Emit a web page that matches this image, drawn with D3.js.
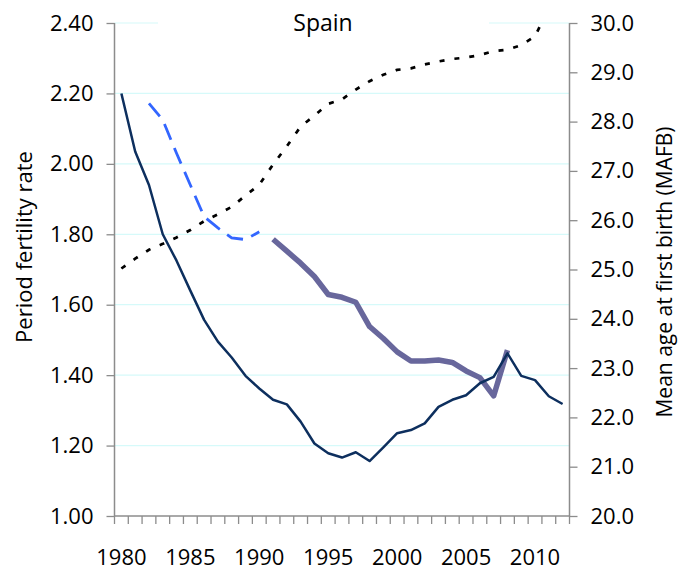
<!DOCTYPE html>
<html><head><meta charset="utf-8">
<script src="https://cdn.jsdelivr.net/npm/d3@7"></script>
<style>body{margin:0;background:#fff}svg text{font-family:"Open Sans",sans-serif;fill:#000}</style>
</head><body><svg id="c" width="685" height="570"></svg>
<script>
const years = [1980,1981,1982,1983,1984,1985,1986,1987,1988,1989,1990,1991,1992,1993,1994,1995,1996,1997,1998,1999,2000,2001,2002,2003,2004,2005,2006,2007,2008,2009,2010,2011,2012];
const yearLabels = [1980,1985,1990,1995,2000,2005,2010];
const tfr = [2.20,2.035,1.94,1.80,1.725,1.64,1.557,1.495,1.45,1.398,1.362,1.33,1.317,1.268,1.206,1.178,1.166,1.181,1.156,1.195,1.235,1.244,1.263,1.31,1.33,1.343,1.377,1.395,1.462,1.398,1.386,1.34,1.318];
const cohortEarlyYears = [1982,1983,1984,1985,1986,1987,1988,1989,1990];
const cohortEarly = [2.172,2.125,2.03,1.94,1.85,1.818,1.79,1.785,1.807];
const cohortYears = [1991,1992,1993,1994,1995,1996,1997,1998,1999,2000,2001,2002,2003,2004,2005,2006,2007,2008];
const cohort = [1.786,1.752,1.718,1.68,1.629,1.621,1.607,1.538,1.504,1.466,1.44,1.44,1.443,1.436,1.412,1.393,1.341,1.471];
const mafb = [25.02,25.22,25.4,25.52,25.65,25.8,25.98,26.12,26.27,26.5,26.72,27.13,27.5,27.9,28.12,28.36,28.45,28.65,28.82,28.95,29.05,29.08,29.16,29.22,29.27,29.3,29.35,29.43,29.46,29.55,29.73,30.3,30.5];
const leftTicks = [1.0,1.2,1.4,1.6,1.8,2.0,2.2,2.4];
const rightTicks = [20,21,22,23,24,25,26,27,28,29,30];

const L = 114.5, R = 569.5, T = 23, B = 516;
const svg = d3.select("#c");
const x = d3.scaleBand().domain(years).range([L, R]);
const yL = d3.scaleLinear().domain([1.0, 2.4]).range([B, T]);
const yR = d3.scaleLinear().domain([20, 30]).range([B, T]);
const cx = d => x(d) + x.bandwidth()/2;

svg.append("defs").append("clipPath").attr("id","clip")
  .append("rect").attr("x", L).attr("y", T).attr("width", R-L).attr("height", B-T);

// gridlines
svg.append("g").selectAll("line").data(leftTicks.slice(1)).join("line")
  .attr("x1", L).attr("x2", R).attr("y1", d => yL(d)).attr("y2", d => yL(d))
  .attr("stroke", "#d6fafa").attr("stroke-width", 1.2);

// title with white background
svg.append("rect").attr("x", 158).attr("y", 8).attr("width", 331).attr("height", 30).attr("fill", "#fff");
svg.append("text").attr("x", 323).attr("y", 31).attr("text-anchor","middle").style("font-size","23px").text("Spain");

// axes
const gL = svg.append("g").attr("transform", `translate(${L},0)`)
  .call(d3.axisLeft(yL).tickValues(leftTicks).tickFormat(d3.format(".2f")).tickSize(8).tickPadding(13));
const gR = svg.append("g").attr("transform", `translate(${R},0)`)
  .call(d3.axisRight(yR).tickValues(rightTicks).tickFormat(d3.format(".1f")).tickSize(8).tickPadding(13));
const gB = svg.append("g").attr("transform", `translate(0,${B})`)
  .call(d3.axisBottom(x).tickValues(yearLabels).tickSize(0).tickPadding(33));
// boundary ticks for categories
svg.append("g").selectAll("line").data(years.concat([null])).join("line")
  .attr("x1", (d,i) => L + i*x.step()).attr("x2", (d,i) => L + i*x.step())
  .attr("y1", B).attr("y2", B+8).attr("stroke", "#8c8c8c").attr("stroke-width", 1.3);
[gL,gR,gB].forEach(g => {
  g.select(".domain").attr("stroke","#8c8c8c").attr("stroke-width",1.5);
  g.selectAll(".tick line").attr("stroke","#8c8c8c").attr("stroke-width",1.3);
  g.selectAll("text").style("font-size","22px").attr("fill","#000").style("font-family","'Open Sans',sans-serif");
});
gB.select(".domain").attr("d", `M${L},0H${R}`);
gL.select(".domain").attr("d", `M0,${B}V${T}`);
gR.select(".domain").attr("d", `M0,${B}V${T}`);

const plot = svg.append("g").attr("clip-path","url(#clip)");
const lineL = d3.line().x(d => cx(d[0])).y(d => yL(d[1]));
const lineR = d3.line().x(d => cx(d[0])).y(d => yR(d[1]));

plot.append("path").attr("d", lineR(d3.zip(years, mafb)))
  .attr("fill","none").attr("stroke","#000").attr("stroke-width",2.7).attr("stroke-dasharray","5,10");
plot.append("path").attr("d", lineL(d3.zip(cohortEarlyYears, cohortEarly)))
  .attr("fill","none").attr("stroke","#3366ff").attr("stroke-width",2.8).attr("stroke-dasharray","17,9");
plot.append("path").attr("d", lineL(d3.zip(cohortYears, cohort)))
  .attr("fill","none").attr("stroke","#68679c").attr("stroke-width",5.5).attr("stroke-linejoin","round");
plot.append("path").attr("d", lineL(d3.zip(years, tfr)))
  .attr("fill","none").attr("stroke","#0d2f5e").attr("stroke-width",2.5).attr("stroke-linejoin","round");

// axis titles
svg.append("text").attr("transform","translate(32,247) rotate(-90)").attr("text-anchor","middle")
  .style("font-size","22px").text("Period fertility rate");
svg.append("text").attr("transform","translate(672,272) rotate(-90)").attr("text-anchor","middle")
  .style("font-size","21px").text("Mean age at first birth (MAFB)");
</script></body></html>
